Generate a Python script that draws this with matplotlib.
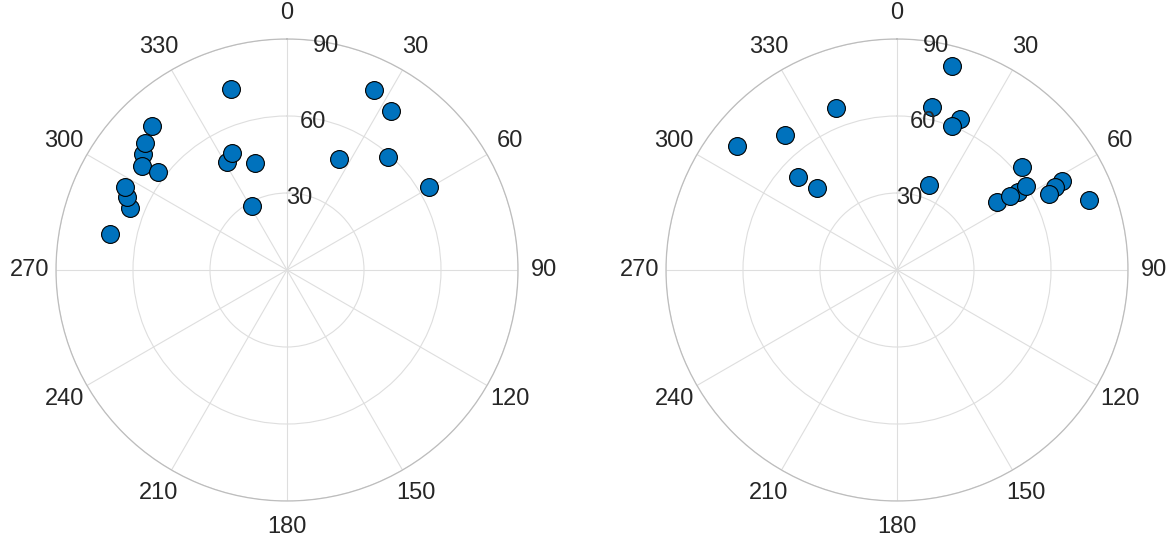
import numpy as np
import matplotlib
matplotlib.use("Agg")
import matplotlib.pyplot as plt

# left panel: azimuth (deg, clockwise from north) and radius
left_theta = [342.9, 309.0, 316.8, 311.9, 305.7, 307.2, 291.5, 294.5, 297.1,
              281.6, 331.1, 334.9, 343.3, 331.3, 25.7, 33.3, 25.2, 41.8, 59.8]
left_r = [73.7, 72.0, 77.0, 74.3, 69.7, 63.2, 65.8, 68.7, 70.9,
          70.3, 48.0, 50.4, 43.6, 28.3, 77.8, 74.0, 47.9, 59.3, 64.0]

# right panel
right_theta = [339.5, 320.4, 307.6, 313.3, 315.7, 15.1, 12.1, 22.6, 20.9,
               20.8, 50.5, 57.3, 57.1, 56.0, 57.0, 61.5, 62.3, 63.3, 69.9]
right_r = [67.5, 68.2, 78.9, 52.9, 44.7, 82.2, 64.9, 63.6, 60.0,
           35.6, 62.9, 56.0, 60.0, 47.1, 52.7, 73.0, 69.5, 66.2, 79.7]

r_ticks = [30, 60, 90]
theta_ticks = list(range(0, 360, 30))

plt.rcParams['font.family'] = ['Liberation Sans', 'DejaVu Sans']
text_color = '#262626'

fig = plt.figure(figsize=(11.67, 5.41), dpi=100)
positions = [[56 / 1167, 40 / 541, 462 / 1167, 462 / 541],
             [666 / 1167, 40 / 541, 462 / 1167, 462 / 541]]

for pos, th, rr in zip(positions, [left_theta, right_theta], [left_r, right_r]):
    ax = fig.add_axes(pos, projection='polar')
    ax.set_theta_zero_location('N')
    ax.set_theta_direction(-1)
    ax.set_ylim(0, 90)
    ax.set_thetagrids(theta_ticks, [str(t) for t in theta_ticks])
    ax.set_yticks(r_ticks)
    ax.set_yticklabels([])
    ax.grid(True, color='#dedede', linewidth=0.8)
    ax.spines['polar'].set_color('#bdbdbd')
    ax.spines['polar'].set_linewidth(0.9)
    ax.tick_params(axis='x', colors=text_color, labelsize=17, pad=12, length=0)
    ax.tick_params(axis='y', length=0)
    for t in r_ticks:
        ax.text(np.deg2rad(10), t - 1.5, str(t), ha='center', va='center',
                fontsize=17, color=text_color, zorder=5)
    ax.scatter(np.deg2rad(th), rr, s=165, color='#0072BD',
               edgecolors='black', linewidths=0.8, zorder=3)
    ax.set_axisbelow(True)

fig.savefig('out.png', dpi=100)
